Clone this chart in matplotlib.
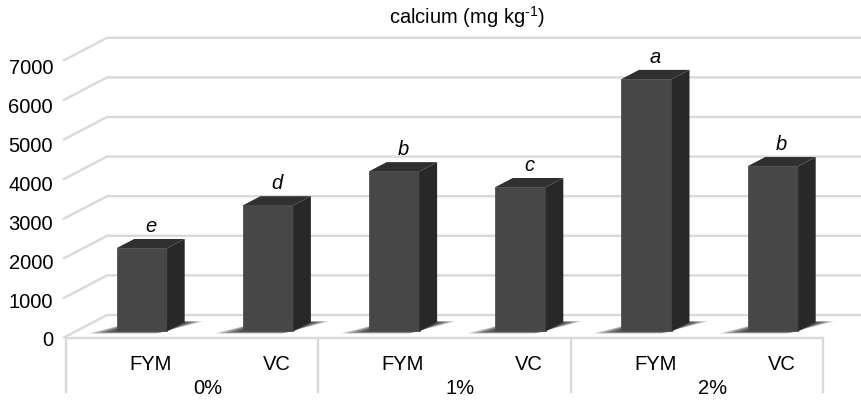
import matplotlib
matplotlib.use("Agg")
import matplotlib.pyplot as plt
from matplotlib.patches import Polygon

plt.rcParams['font.family'] = ['Liberation Sans', 'DejaVu Sans']
plt.rcParams['mathtext.fontset'] = 'custom'
plt.rcParams['mathtext.rm'] = 'Liberation Sans'
plt.rcParams['mathtext.default'] = 'regular'

# datos
dosis = ["0%", "1%", "2%"]
abonos = ["FYM", "VC", "FYM", "VC", "FYM", "VC"]
calcio = [2100, 3180, 4040, 3640, 6370, 4170]
letras = ["e", "d", "b", "c", "a", "b"]
ticks_y = [0, 1000, 2000, 3000, 4000, 5000, 6000, 7000]

# escala: pixeles por categoria y por unidad de calcio
px_x = 126.2
px_y = 0.0396
# profundidad del falso 3D (pixeles -> unidades)
prof_x = 44 / px_x
prof_y = 23 / px_y
d0, d1 = 0.29, 0.69  # profundidad que ocupa cada barra
ancho = 0.40

fig = plt.figure(figsize=(8.61, 4.01), dpi=100)
ax = fig.add_axes([0, 0, 1, 1])
ax.set_xlim(-66 / px_x, (861 - 66) / px_x)
ax.set_ylim(-(401 - 338) / px_y, 338 / px_y)
ax.axis("off")

gris = "#d9d9d9"
x_der = (861 - 66) / px_x + 0.5

# lineas de la pared y el piso
for v in ticks_y:
    x0 = -3 / px_x
    ax.plot([x0, x0 + prof_x, x_der], [v, v + prof_y, v + prof_y],
            color=gris, lw=1.7, zorder=1, solid_capstyle="butt")
    ax.text(-13 / px_x, v * 0.982 - 75, str(v), ha="right", va="center",
            fontsize=14.5)

n = len(calcio)
ax.plot([0, n], [0, 0], color=gris, lw=1.7, zorder=1)
for k in range(0, n + 1, 2):
    ax.plot([k, k], [0, -(392 - 338) / px_y], color=gris, lw=1.7, zorder=1)

bx = [i + 0.5 + d0 * prof_x for i in range(n)]
by = d0 * prof_y
dx = (d1 - d0) * prof_x
dy = (d1 - d0) * prof_y

# sombras difusas en el piso
capas = 16
for i in range(n):
    izq = bx[i] - ancho / 2
    der = bx[i] + ancho / 2
    for s in range(capas):
        t = 1 - s / capas
        m = 0.20 * t
        p = 0.10 * t
        a0 = by - p * prof_y
        ax0 = -p * prof_x
        a1 = by + dy + p * 0.4 * prof_y
        ax1 = dx + p * 0.4 * prof_x
        huella = [(izq - m + ax0, a0), (der - m * 0.3 + ax0, a0),
                  (der + m * 0.7 + ax1, a1), (izq + ax1, a1)]
        ax.add_patch(Polygon(huella, closed=True, color="black",
                             alpha=0.07, lw=0, zorder=2))

# barras
ax.bar(bx, calcio, width=ancho, bottom=by, color="#474747",
       edgecolor="#505050", linewidth=0.6, zorder=4)

for i, v in enumerate(calcio):
    izq = bx[i] - ancho / 2
    der = bx[i] + ancho / 2
    tope = by + v
    lado = [(der, by), (der + dx, by + dy), (der + dx, tope + dy), (der, tope)]
    techo = [(izq, tope), (izq + dx, tope + dy), (der + dx, tope + dy), (der, tope)]
    ax.add_patch(Polygon(lado, closed=True, color="#282828", lw=0, zorder=4))
    ax.add_patch(Polygon(techo, closed=True, color="#303030", lw=0, zorder=4))
    ax.text(bx[i] + dx / 2, tope + dy + 7 / px_y, letras[i], ha="center",
            va="baseline", fontsize=14.5, style="italic", zorder=5)

# etiquetas del eje x
for i, a in enumerate(abonos):
    ax.text(i + 0.5 + 0.17, -26 / px_y, a, ha="center", va="center", fontsize=14.5)
for j, d in enumerate(dosis):
    ax.text(2 * j + 1 + 0.12, -51 / px_y, d, ha="center", va="center", fontsize=14.5)

fig.text(467 / 861, 1 - 17 / 401, "calcium (mg kg$^{\u2010 1}$)", ha="center",
         va="center", fontsize=14.5)

fig.savefig("out.png", dpi=100)
